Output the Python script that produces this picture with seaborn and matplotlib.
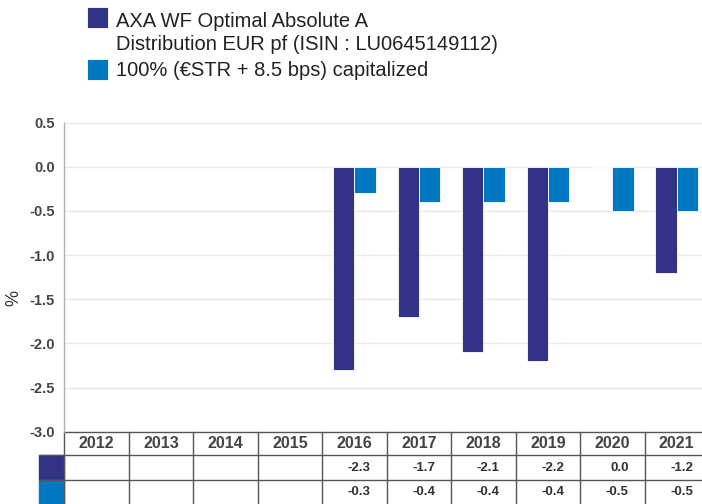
import matplotlib
matplotlib.use("Agg")
import matplotlib.pyplot as plt
import matplotlib.transforms as mtransforms
from matplotlib.patches import Rectangle
import numpy as np
import pandas as pd
import seaborn as sns

years = ["2012", "2013", "2014", "2015", "2016", "2017", "2018", "2019", "2020", "2021"]
fund_label = "AXA WF Optimal Absolute A\nDistribution EUR pf (ISIN : LU0645149112)"
bench_label = "100% (€STR + 8.5 bps) capitalized"
fund_values = [np.nan, np.nan, np.nan, np.nan, -2.3, -1.7, -2.1, -2.2, 0.0, -1.2]
bench_values = [np.nan, np.nan, np.nan, np.nan, -0.3, -0.4, -0.4, -0.4, -0.5, -0.5]
y_ticks = [0.5, 0.0, -0.5, -1.0, -1.5, -2.0, -2.5, -3.0]

navy = "#323387"
blue = "#0079C2"

sns.set_theme(style="white")
plt.rcParams["font.family"] = ["Liberation Sans", "DejaVu Sans"]

df = pd.DataFrame({
    "year": years * 2,
    "value": fund_values + bench_values,
    "series": [fund_label] * len(years) + [bench_label] * len(years),
})

W, H = 702, 504
fig = plt.figure(figsize=(W / 100, H / 100), dpi=100)
ax_left, ax_right, ax_top, ax_bot = 64.3, 709.0, 122.5, 431.7
ax = fig.add_axes([ax_left / W, 1 - ax_bot / H, (ax_right - ax_left) / W, (ax_bot - ax_top) / H])

sns.barplot(data=df, x="year", y="value", hue="series", order=years,
            hue_order=[fund_label, bench_label], palette=[navy, blue], saturation=1,
            width=0.66, errorbar=None, edgecolor="white", linewidth=0.6, ax=ax)

handles, labels = ax.get_legend_handles_labels()
if ax.get_legend() is not None:
    ax.get_legend().remove()

ax.set_ylim(-3.0, 0.5)
ax.set_xlim(-0.5, len(years) - 0.5)
ax.set_yticks(y_ticks)
ax.set_yticklabels([f"{t:.1f}" for t in y_ticks], fontweight="bold", fontsize=10.5, color="#444444")
ax.tick_params(axis="y", length=0, pad=7)
ax.tick_params(axis="x", length=0, labelbottom=False)
ax.set_xlabel("")
ax.set_ylabel("%", fontsize=13, color="#333333", va="center")
ax.yaxis.set_label_coords(-50 / (ax_right - ax_left), 0.432)
ax.yaxis.grid(True, color="#e8e8e8", linewidth=1)
ax.set_axisbelow(True)
for side in ["top", "right", "bottom"]:
    ax.spines[side].set_visible(False)
ax.spines["left"].set_color("#b0b0b0")
ax.spines["left"].set_linewidth(1)

# data table under the plot
ah = ax_bot - ax_top
aw = ax_right - ax_left
rows_px = [0, 23.5, 48.5, 73.0]
rows = [-r / ah for r in rows_px]
trans = mtransforms.blended_transform_factory(ax.transData, ax.transAxes)
line_kw = dict(color="#555555", linewidth=1, clip_on=False)

swatch_w = 25 / aw
ax.add_patch(Rectangle((-swatch_w, rows[2]), swatch_w, rows[1] - rows[2],
                       transform=ax.transAxes, color=navy, clip_on=False))
ax.add_patch(Rectangle((-swatch_w, rows[3]), swatch_w, rows[2] - rows[3],
                       transform=ax.transAxes, color=blue, clip_on=False))

ax.plot([-0.5, len(years) - 0.5], [rows[0]] * 2, transform=trans, **line_kw)
for r in rows[1:3]:
    ax.plot([0, 1], [r, r], transform=ax.transAxes, **line_kw)
    ax.plot([-swatch_w, 0], [r, r], transform=ax.transAxes, **line_kw)
for i in range(len(years) + 1):
    ax.plot([i - 0.5, i - 0.5], [rows[0], rows[3]], transform=trans, **line_kw)

pad = 16 / (aw / len(years))
for i, year in enumerate(years):
    ax.text(i, (rows[0] + rows[1]) / 2, year, transform=trans, ha="center", va="center",
            fontsize=11.5, fontweight="bold", color="#444444")
    for k, vals in enumerate([fund_values, bench_values]):
        v = vals[i]
        if np.isnan(v):
            continue
        ax.text(i + 0.5 - pad, (rows[k + 1] + rows[k + 2]) / 2, f"{v:.1f}", transform=trans,
                ha="right", va="center", fontsize=9.5, fontweight="bold", color="#333333")

leg = fig.legend(handles, labels, loc="upper left", bbox_to_anchor=(87 / W, 1 - 12 / H),
                 frameon=False, fontsize=14.5, handlelength=1.035, handleheight=1.215,
                 handletextpad=0.4, labelspacing=0.23, borderaxespad=0, borderpad=0,
                 labelcolor="#222222")
leg.get_texts()[0].set_linespacing(1.27)
# put the first swatch next to the first line of its two-line label
h0 = leg.legend_handles[0]
h0.set_y(h0.get_y() + 11.6)

fig.savefig("out.png", dpi=100)
